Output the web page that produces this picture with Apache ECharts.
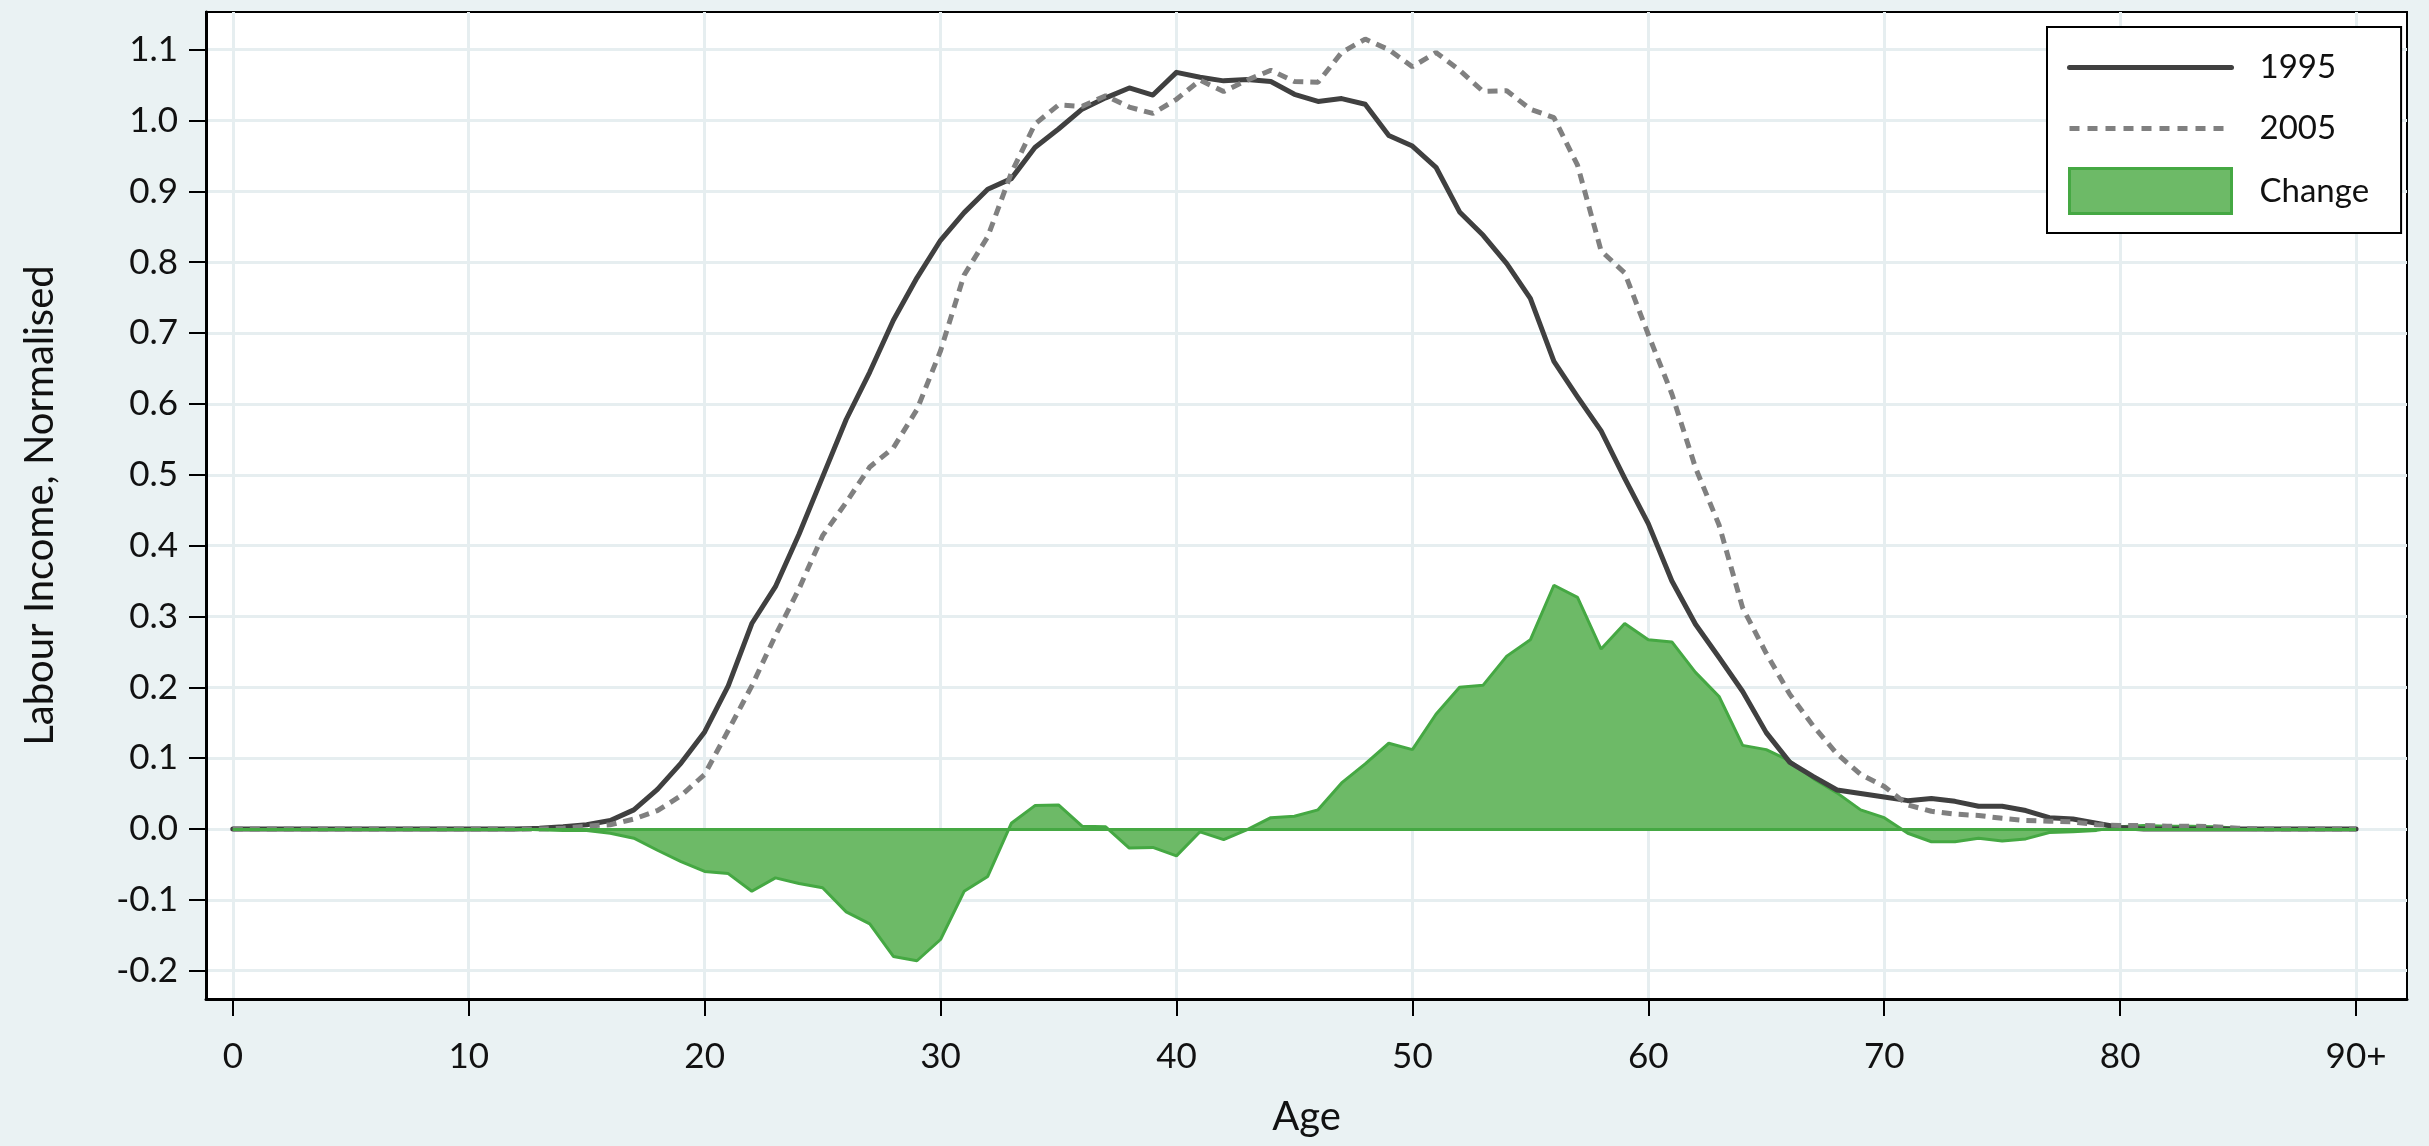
<!DOCTYPE html>
<html>
<head>
<meta charset="utf-8">
<title>Labour Income by Age, 1995 and 2005</title>
<script src="https://cdn.jsdelivr.net/npm/echarts@6/dist/echarts.min.js"></script>
<style>
  html, body { margin: 0; padding: 0; background: #EAF2F3; }
  #chart { width: 2429px; height: 1146px; }
</style>
</head>
<body>
<div id="chart"></div>
<script>
// Ages 0 to 90 (the last group is 90 and over)
const ages = [
  0, 1, 2, 3, 4, 5, 6, 7, 8, 9,
  10, 11, 12, 13, 14, 15, 16, 17, 18, 19,
  20, 21, 22, 23, 24, 25, 26, 27, 28, 29,
  30, 31, 32, 33, 34, 35, 36, 37, 38, 39,
  40, 41, 42, 43, 44, 45, 46, 47, 48, 49,
  50, 51, 52, 53, 54, 55, 56, 57, 58, 59,
  60, 61, 62, 63, 64, 65, 66, 67, 68, 69,
  70, 71, 72, 73, 74, 75, 76, 77, 78, 79,
  80, 81, 82, 83, 84, 85, 86, 87, 88, 89,
  90
];

// Normalised labour income per age, 1995
const income1995 = [
  0, 0, 0, 0, 0, 0, 0, 0, 0, 0,
  0, 0, 0, 0.001, 0.003, 0.006, 0.012, 0.027, 0.056, 0.093,
  0.137, 0.202, 0.290, 0.342, 0.416, 0.497, 0.578, 0.645, 0.718, 0.778,
  0.831, 0.870, 0.903, 0.918, 0.962, 0.988, 1.016, 1.032, 1.046, 1.036,
  1.068, 1.061, 1.056, 1.058, 1.055, 1.037, 1.027, 1.031, 1.023, 0.979,
  0.964, 0.934, 0.871, 0.838, 0.798, 0.749, 0.660, 0.610, 0.562, 0.495,
  0.431, 0.350, 0.289, 0.242, 0.194, 0.136, 0.094, 0.074, 0.055, 0.050,
  0.045, 0.040, 0.043, 0.039, 0.032, 0.032, 0.026, 0.016, 0.014, 0.008,
  0.002, 0, 0, 0, 0, 0, 0, 0, 0, 0,
  0
];

// Normalised labour income per age, 2005
const income2005 = [
  0, 0, 0, 0, 0, 0, 0, 0, 0, 0,
  0, 0, 0, 0, 0.001, 0.004, 0.006, 0.014, 0.026, 0.047,
  0.077, 0.139, 0.202, 0.273, 0.339, 0.414, 0.461, 0.511, 0.538, 0.592,
  0.675, 0.782, 0.836, 0.926, 0.995, 1.022, 1.020, 1.035, 1.019, 1.010,
  1.030, 1.057, 1.041, 1.057, 1.071, 1.055, 1.054, 1.096, 1.115, 1.100,
  1.076, 1.096, 1.071, 1.041, 1.042, 1.016, 1.004, 0.937, 0.816, 0.785,
  0.698, 0.614, 0.510, 0.429, 0.312, 0.248, 0.190, 0.145, 0.106, 0.077,
  0.060, 0.034, 0.025, 0.021, 0.019, 0.015, 0.012, 0.011, 0.010, 0.006,
  0.005, 0.005, 0.004, 0.004, 0.003, 0.001, 0, 0, 0, 0,
  0
];

// Change between the two years
const change = [
  0, 0, 0, 0, 0, 0, 0, 0, 0, 0,
  0, 0, 0, -0.001, -0.002, -0.002, -0.006, -0.013, -0.030, -0.046,
  -0.060, -0.063, -0.088, -0.069, -0.077, -0.083, -0.117, -0.134, -0.180, -0.186,
  -0.156, -0.088, -0.067, 0.008, 0.033, 0.034, 0.004, 0.003, -0.027, -0.026,
  -0.038, -0.004, -0.015, -0.001, 0.016, 0.018, 0.027, 0.065, 0.092, 0.121,
  0.112, 0.162, 0.200, 0.203, 0.244, 0.267, 0.344, 0.327, 0.254, 0.290,
  0.267, 0.264, 0.221, 0.187, 0.118, 0.112, 0.096, 0.071, 0.051, 0.027,
  0.016, -0.006, -0.018, -0.018, -0.013, -0.017, -0.014, -0.005, -0.004, -0.002,
  0.003, 0.005, 0.004, 0.004, 0.003, 0.001, 0, 0, 0, 0,
  0
];

// Axis ticks
const xTicks = [0, 10, 20, 30, 40, 50, 60, 70, 80, 90];
const xTickLabels = ['0', '10', '20', '30', '40', '50', '60', '70', '80', '90+'];
const yTicks = [-0.2, -0.1, 0, 0.1, 0.2, 0.3, 0.4, 0.5, 0.6, 0.7, 0.8, 0.9, 1.0, 1.1];

const FONT = 'Lato';
const GRID_COLOR = '#E6EEF0';
const GREEN_FILL = '#6DBA67';
const GREEN_LINE = '#45A843';
const DARK = '#404040';
const GREY = '#808080';
const HIDDEN_MARKER = { color: 'rgba(0,0,0,0)', borderWidth: 0, opacity: 0 };

const pairs = (ys) => ages.map((a, i) => [a, ys[i]]);

const chart = echarts.init(document.getElementById('chart'), null, { renderer: 'canvas' });

chart.setOption({
  backgroundColor: '#EAF2F3',
  animation: false,
  textStyle: { fontFamily: FONT },
  grid: {
    left: 206, right: 22, top: 12, bottom: 147,
    show: true,
    backgroundColor: '#FFFFFF',
    borderColor: '#000000',
    borderWidth: 2
  },
  legend: {
    orient: 'vertical',
    left: 2047,
    top: 27,
    padding: [18, 20, 18, 20],
    itemWidth: 162,
    itemHeight: 45,
    itemGap: 16,
    backgroundColor: '#FFFFFF',
    borderColor: '#000000',
    borderWidth: 2,
    selectedMode: false,
    textStyle: {
      fontFamily: FONT,
      fontSize: 33,
      lineHeight: 45,
      color: '#111111',
      padding: [0, 12, 0, 23]
    },
    data: [
      { name: '1995', itemStyle: HIDDEN_MARKER, lineStyle: { color: DARK, width: 5, type: 'solid' } },
      { name: '2005', itemStyle: HIDDEN_MARKER, lineStyle: { color: GREY, width: 5, type: [10, 8] } },
      { name: 'Change', icon: 'rect', itemStyle: { color: GREEN_FILL, borderColor: GREEN_LINE, borderWidth: 3 } }
    ]
  },
  xAxis: {
    type: 'value',
    min: -1.136,
    max: 92.16,
    name: 'Age',
    nameLocation: 'middle',
    nameGap: 98,
    nameTextStyle: { fontFamily: FONT, fontSize: 40, color: '#111111' },
    axisLine: { show: true, onZero: false, lineStyle: { color: '#000000', width: 3 } },
    axisTick: {
      show: true, length: 17, customValues: xTicks,
      lineStyle: { color: '#000000', width: 2 }
    },
    axisLabel: {
      customValues: xTicks,
      margin: 40,
      fontFamily: FONT,
      fontSize: 35,
      color: '#111111',
      formatter: (v) => xTickLabels[xTicks.indexOf(v)]
    },
    splitLine: { show: true, lineStyle: { color: GRID_COLOR, width: 3 } }
  },
  yAxis: {
    type: 'value',
    min: -0.24,
    max: 1.1532,
    name: 'Labour Income, Normalised',
    nameLocation: 'middle',
    nameGap: 146,
    nameTextStyle: { fontFamily: FONT, fontSize: 40, color: '#111111' },
    axisLine: { show: true, onZero: false, lineStyle: { color: '#000000', width: 3 } },
    axisTick: {
      show: true, length: 17, customValues: yTicks,
      lineStyle: { color: '#000000', width: 2 }
    },
    axisLabel: {
      customValues: yTicks,
      margin: 28,
      fontFamily: FONT,
      fontSize: 35,
      color: '#111111',
      padding: [14, 0, 0, 0],
      formatter: (v) => v.toFixed(1)
    },
    splitLine: { show: true, lineStyle: { color: GRID_COLOR, width: 3 } }
  },
  series: [
    {
      name: 'Change',
      type: 'line',
      data: pairs(change),
      symbol: 'none',
      showSymbol: false,
      lineStyle: { color: GREEN_LINE, width: 3 },
      itemStyle: { color: GREEN_FILL },
      areaStyle: { color: GREEN_FILL, opacity: 1, origin: 0 },
      markLine: {
        silent: true,
        symbol: ['none', 'none'],
        label: { show: false },
        lineStyle: { color: GREEN_LINE, width: 3, type: 'solid' },
        data: [[{ coord: [ages[0], 0] }, { coord: [ages[ages.length - 1], 0] }]]
      },
      z: 2
    },
    {
      name: '1995',
      type: 'line',
      data: pairs(income1995),
      symbol: 'none',
      showSymbol: false,
      lineStyle: { color: DARK, width: 5, cap: 'round', join: 'round' },
      itemStyle: { color: DARK },
      z: 3
    },
    {
      name: '2005',
      type: 'line',
      data: pairs(income2005),
      symbol: 'none',
      showSymbol: false,
      lineStyle: { color: GREY, width: 5, type: [10, 7], cap: 'butt' },
      itemStyle: { color: GREY },
      z: 4
    }
  ]
});
</script>
</body>
</html>
